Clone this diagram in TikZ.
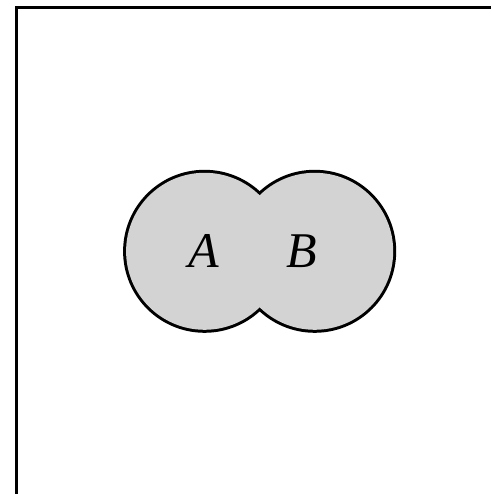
\documentclass[tikz,border=0pt]{standalone}
\usepackage{fontspec}
\setmainfont{Liberation Serif}
\definecolor{setfill}{HTML}{D3D3D3}
\tikzset{
  frameline/.style={line width=3pt, line join=miter},
  setring/.style={draw=black, line width=6pt},
  setfillst/.style={fill=setfill},
  setlabel/.style={anchor=base, inner sep=0pt, font=\fontsize{50}{60}\selectfont\itshape}
}
\begin{document}
\begin{tikzpicture}[x=1pt,y=1pt]
\useasboundingbox (0,0) rectangle (491,494);
\draw[frameline] (16.5,0) -- (16.5,486.5) -- (491,486.5);
\coordinate (ca) at (204.6,242.7);
\coordinate (cb) at (314.7,242.7);
\draw[setring] (ca) circle[radius=78.5];
\draw[setring] (cb) circle[radius=78.5];
\fill[setfillst] (ca) circle[radius=78.5];
\fill[setfillst] (cb) circle[radius=78.5];
\node[setlabel] (la) at (204,226) {A};
\node[setlabel] (lb) at (302,226) {B};
\end{tikzpicture}
\end{document}
